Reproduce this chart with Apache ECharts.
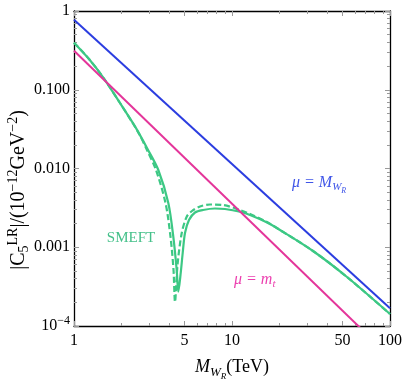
<!DOCTYPE html>
<html>
<head>
<meta charset="utf-8">
<script src="https://cdn.jsdelivr.net/npm/echarts@6/dist/echarts.min.js"></script>
<style>
  html, body { margin: 0; padding: 0; background: #fff; }
  #chart { width: 405px; height: 383px; }
</style>
</head>
<body>
<div id="chart"></div>
<script>
// straight lines (mu = M_WR, mu = m_t), x in TeV
const lineX = [1, 100];
const muWR = [0.773, 1.68e-4];
const muMt = [0.313, 4.08e-5];

// SMEFT solid curve
const smeftX = [1, 1.244, 1.532, 1.955, 2.363, 2.616, 2.897, 3.417, 3.953, 4.251, 4.467, 4.573,
  4.722, 4.875, 5.041, 5.343, 5.832, 6.554, 7.805, 9.031, 11.23, 13.0, 16.42, 20.13, 32.56, 53.44, 100];
const smeftY = [0.3958, 0.2458, 0.1430, 0.0679, 0.0376, 0.02654, 0.01821, 0.009572, 0.003647, 0.001361,
  0.000514, 0.0002727, 0.0004443, 0.0008452, 0.001517, 0.002218, 0.002762, 0.002972, 0.003105, 0.003060,
  0.002827, 0.002568, 0.002092, 0.001656, 0.0008965, 0.000419, 0.0001421];

// SMEFT dashed curve
const smeftDashX = [1, 1.244, 1.532, 1.955, 2.363, 2.616, 2.897, 3.304, 3.795, 4.081, 4.264, 4.358,
  4.519, 4.804, 5.168, 5.582, 6.273, 7.258, 8.77, 11.23, 13.0, 16.42, 20.13, 32.56, 53.44, 100];
const smeftDashY = [0.3958, 0.2458, 0.1430, 0.0679, 0.03727, 0.02624, 0.01717, 0.009572, 0.003647, 0.001361,
  0.000514, 0.0002017, 0.0005951, 0.001503, 0.002443, 0.002886, 0.003293, 0.00349, 0.00344, 0.002972,
  0.002644, 0.002123, 0.001656, 0.0008965, 0.000419, 0.0001421];

// ticks and labels
const xLabelValues = [1, 5, 10, 50, 100];
const xMinorTicks = [2, 3, 4, 6, 7, 8, 9, 20, 30, 40, 60, 70, 80, 90];
const yLabelValues = [1e-4, 1e-3, 1e-2, 1e-1, 1];
const yTickLabels = ['10{sup|\u22124}', '0.001', '0.010', '0.100', '1'];
const yMinorTicks = [];
[1e-4, 1e-3, 1e-2, 1e-1].forEach(d => {
  for (let k = 2; k <= 9; k++) yMinorTicks.push(+(k * d).toPrecision(3));
});

const serif = 'Liberation Serif';
const blue = '#2b3de0';
const pink = '#e4359a';
const green = '#3cc884';

const chart = echarts.init(document.getElementById('chart'));

function xAx(pos, ticks, len, opts) {
  return Object.assign({
    type: 'log', logBase: 10, min: 1, max: 100, position: pos,
    axisLine: { show: false },
    axisTick: { show: true, inside: true, length: len, customValues: ticks, lineStyle: { color: '#999' } },
    axisLabel: { show: false },
    splitLine: { show: false }
  }, opts || {});
}
function yAx(pos, ticks, len, opts) {
  return Object.assign({
    type: 'log', logBase: 10, min: 1e-4, max: 1, position: pos,
    axisLine: { show: false },
    axisTick: { show: true, inside: true, length: len, customValues: ticks, lineStyle: { color: '#999' } },
    axisLabel: { show: false },
    splitLine: { show: false }
  }, opts || {});
}

const frame = { show: true, lineStyle: { color: '#000', width: 1.3 } };
const rich = {
  sup: { fontFamily: serif, fontSize: 12, padding: [0, 0, 10, 0], color: '#000' },
  sub: { fontFamily: serif, fontSize: 13, fontStyle: 'italic', padding: [10, 0, 0, 0], color: '#000' },
  ssub: { fontFamily: serif, fontSize: 9, fontStyle: 'italic', padding: [18, 0, 0, 0], color: '#000' },
  it: { fontFamily: serif, fontSize: 18, fontStyle: 'italic', color: '#000' },
  n: { fontFamily: serif, fontSize: 18, color: '#000' }
};
// y title (rotated)
const yRich = {
  n: { fontFamily: serif, fontSize: 20, fill: '#000' },
  sup: { fontFamily: serif, fontSize: 14, fill: '#000', padding: [0, 0, 12, 0] },
  sub: { fontFamily: serif, fontSize: 14, fill: '#000', padding: [11, 0, 0, 0] }
};

const option = {
  animation: false,
  backgroundColor: '#fff',
  grid: { left: 74, top: 11, width: 316, height: 315, outerBoundsMode: 'none' },
  xAxis: [
    xAx('bottom', xLabelValues, 5, {
      axisLine: frame,
      axisLabel: {
        show: true, customValues: xLabelValues, margin: 7,
        color: '#000', fontFamily: serif, fontSize: 16,
        formatter: v => String(Math.round(v))
      },
      name: '{it|M}{sub|W}{ssub|R}{n|(TeV)}',
      nameLocation: 'middle', nameGap: 28,
      nameTextStyle: { fontFamily: serif, rich: rich }
    }),
    xAx('bottom', xMinorTicks, 3),
    xAx('top', xLabelValues, 5, { axisLine: frame }),
    xAx('top', xMinorTicks, 3)
  ],
  yAxis: [
    yAx('left', yLabelValues, 5, {
      axisLine: frame,
      axisLabel: {
        show: true, customValues: yLabelValues, margin: 4,
        color: '#000', fontFamily: serif, fontSize: 16,
        formatter: v => yTickLabels[Math.round(Math.log10(v)) + 4],
        rich: rich
      }
    }),
    yAx('left', yMinorTicks, 3),
    yAx('right', yLabelValues, 5, { axisLine: frame }),
    yAx('right', yMinorTicks, 3)
  ],
  series: [
    {
      type: 'line', data: smeftX.map((x, i) => [x, smeftY[i]]),
      showSymbol: false, smooth: 0.3, clip: true,
      lineStyle: { color: green, width: 2.2 }
    },
    {
      type: 'line', data: smeftDashX.map((x, i) => [x, smeftDashY[i]]),
      showSymbol: false, smooth: 0.3, clip: true,
      lineStyle: { color: green, width: 2.2, type: [6, 3] }
    },
    {
      type: 'line', data: lineX.map((x, i) => [x, muMt[i]]),
      showSymbol: false, clip: true,
      lineStyle: { color: pink, width: 2 }
    },
    {
      type: 'line', data: lineX.map((x, i) => [x, muWR[i]]),
      showSymbol: false, clip: true,
      lineStyle: { color: blue, width: 2 }
    }
  ],
  graphic: [
    {
      type: 'text', x: 19, y: 190, rotation: Math.PI / 2, silent: true,
      style: {
        text: '{n||C}{sub|5}{sup|LR}{n||/(10}{sup|\u221212}{n|GeV}{sup|\u22122}{n|)}',
        align: 'center', verticalAlign: 'middle', rich: yRich
      }
    },
    {
      type: 'text', x: 131, y: 238, silent: true,
      style: { text: 'SMEFT', fill: '#45c08a', font: '15px "Liberation Serif"', align: 'center', verticalAlign: 'middle' }
    },
    {
      type: 'text', x: 292, y: 183, silent: true,
      style: {
        text: '{a|\u03bc = M}{b|W}{c|R}', verticalAlign: 'middle',
        rich: {
          a: { fontFamily: serif, fontSize: 16, fontStyle: 'italic', fill: '#3f55e8' },
          b: { fontFamily: serif, fontSize: 11, fontStyle: 'italic', fill: '#3f55e8', padding: [9, 0, 0, 0] },
          c: { fontFamily: serif, fontSize: 8, fontStyle: 'italic', fill: '#3f55e8', padding: [15, 0, 0, 0] }
        }
      }
    },
    {
      type: 'text', x: 234, y: 280, silent: true,
      style: {
        text: '{a|\u03bc = m}{b|t}', verticalAlign: 'middle',
        rich: {
          a: { fontFamily: serif, fontSize: 16, fontStyle: 'italic', fill: '#ec3faf' },
          b: { fontFamily: serif, fontSize: 11, fontStyle: 'italic', fill: '#ec3faf', padding: [9, 0, 0, 0] }
        }
      }
    }
  ]
};

chart.setOption(option);
</script>
</body>
</html>
